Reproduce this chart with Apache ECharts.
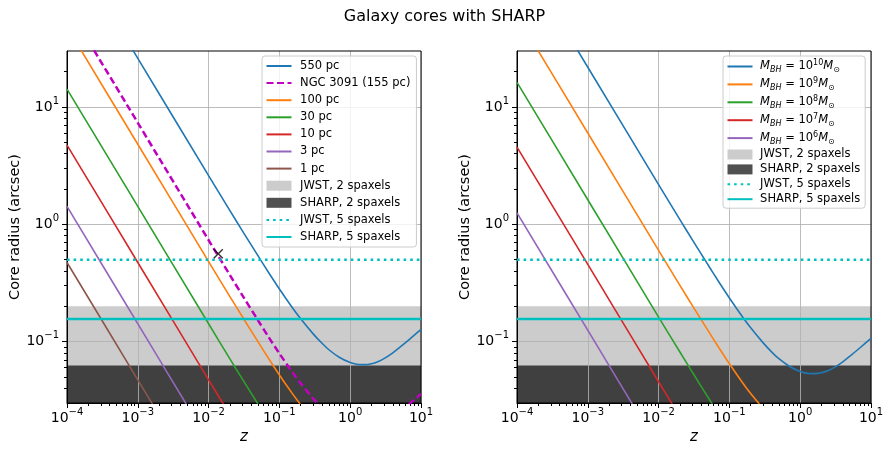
<!DOCTYPE html>
<html>
<head>
<meta charset="utf-8">
<title>Galaxy cores with SHARP</title>
<script src="https://cdn.jsdelivr.net/npm/echarts@6/dist/echarts.min.js"></script>
<style>
    html, body { margin: 0; padding: 0; background: #fff; }
    #chart { width: 889px; height: 465px; }
</style>
</head>
<body>
<div id="chart"></div>
<script>
// 红移采样点（两幅图共用）
var zGrid = [1e-4, 1e-3, 1e-2, 0.02, 0.03, 0.05, 0.07, 0.1, 0.15, 0.2, 0.3, 0.4, 0.5, 0.7, 1, 1.3, 1.6, 2, 2.5, 3, 4, 5, 7, 10];

// 左图：不同核心半径的角尺寸 (arcsec)
var leftNames = ['550 pc', 'NGC 3091 (155 pc)', '100 pc', '30 pc', '10 pc', '3 pc', '1 pc'];
var core550 = [260, 26, 2.6, 1.309, 0.880, 0.5376, 0.3905, 0.2812, 0.1976, 0.1566, 0.1165, 0.0968, 0.0853, 0.0736, 0.0663, 0.0639, 0.0637, 0.0648, 0.0678, 0.0716, 0.0803, 0.0894, 0.1058, 0.1273];
var core155 = [73.3, 7.33, 0.733, 0.3689, 0.248, 0.1515, 0.110, 0.0792, 0.0557, 0.0441, 0.0328, 0.0273, 0.0240, 0.0207, 0.0187, 0.0180, 0.0180, 0.0183, 0.0191, 0.0202, 0.0226, 0.0252, 0.0298, 0.0359];
var core100 = [48.1, 4.81, 0.481, 0.242, 0.163, 0.0995, 0.0722, 0.052, 0.0366, 0.029, 0.0216];
var core30 = [14.2, 1.42, 0.142, 0.0713, 0.048, 0.0293, 0.0213];
var core10 = [4.73, 0.473, 0.0473, 0.0238];
var core3 = [1.42, 0.142, 0.0142];
var core1 = [0.473, 0.0473, 0.00473];

// 右图：不同黑洞质量
var rightNames = ['M_BH = 10^10 M_sun', 'M_BH = 10^9 M_sun', 'M_BH = 10^8 M_sun', 'M_BH = 10^7 M_sun', 'M_BH = 10^6 M_sun'];
var massExp = ['10', '9', '8', '7', '6'];
var mbh10 = [218, 21.8, 2.18, 1.097, 0.737, 0.4505, 0.3272, 0.2356, 0.1656, 0.1312, 0.0976, 0.0811, 0.0715, 0.0617, 0.0556, 0.0535, 0.0534, 0.0543, 0.0568, 0.060, 0.0673, 0.0749, 0.0887, 0.1067];
var mbh9 = [60, 6.0, 0.6, 0.302, 0.203, 0.1241, 0.0901, 0.0649, 0.0456, 0.0361, 0.0269];
var mbh8 = [16.2, 1.62, 0.162, 0.0816, 0.0548, 0.0335, 0.0243];
var mbh7 = [4.55, 0.455, 0.0455, 0.0229];
var mbh6 = [1.25, 0.125, 0.0125];

// NGC 3091 实测点
var ngcPoint = [0.0137, 0.56];

// 参考线/带 (arcsec)
var refNames = ['JWST, 2 spaxels', 'SHARP, 2 spaxels', 'JWST, 5 spaxels', 'SHARP, 5 spaxels'];
var refLevels = [0.2, 0.0625, 0.5, 0.156];

// 坐标轴范围和刻度
var xRange = [1e-4, 10];
var yRange = [0.03, 30];
var xTicks = [1e-4, 1e-3, 1e-2, 1e-1, 1, 10];
var xTickExp = ['\u22124', '\u22123', '\u22122', '\u22121', '0', '1'];
var yTicks = [0.1, 1, 10];
var yTickExp = ['\u22121', '0', '1'];

// 次刻度
function minorTicks(lo, hi) {
    var out = [];
    for (var d = -5; d <= 2; d++) {
        for (var k = 2; k <= 9; k++) {
            var v = k * Math.pow(10, d);
            if (v > lo * 1.0001 && v < hi * 0.9999) out.push(v);
        }
    }
    return out;
}
var xMinor = minorTicks(xRange[0], xRange[1]);
var yMinor = minorTicks(yRange[0], yRange[1]);

var FONT = 'DejaVu Sans';
var tab = ['#1f77b4', '#ff7f0e', '#2ca02c', '#d62728', '#9467bd', '#8c564b'];
var leftColors = [tab[0], '#bf00bf', tab[1], tab[2], tab[3], tab[4], tab[5]];
var cyan = '#00bfbf';

function pairs(vals) {
    var out = [];
    for (var i = 0; i < vals.length; i++) out.push([zGrid[i], vals[i]]);
    return out;
}

function expLabel(ticks, exps) {
    return function (v) {
        for (var i = 0; i < ticks.length; i++) {
            if (Math.abs(Math.log10(v) - Math.log10(ticks[i])) < 1e-6) return '{b|10}{s|' + exps[i] + '}';
        }
        return '';
    };
}
var tickRich = {
    b: { fontSize: 14, lineHeight: 22, color: '#000', fontFamily: FONT },
    s: { fontSize: 10, verticalAlign: 'top', color: '#000', fontFamily: FONT }
};

var grids = [
    { left: 67, top: 51, width: 354, height: 352 },
    { left: 517, top: 51, width: 354, height: 352 }
];

var xAxes = [], yAxes = [];
grids.forEach(function (g, gi) {
    g.show = true;
    g.borderColor = '#000';
    g.borderWidth = 1;
    g.backgroundColor = 'transparent';
    g.z = 2;
    // 主轴
    xAxes.push({
        type: 'log', gridIndex: gi, min: xRange[0], max: xRange[1], position: 'bottom', z: 1,
        axisLine: { show: true, onZero: false, lineStyle: { color: '#000', width: 1 } },
        axisTick: { show: true, length: 5, customValues: xTicks, lineStyle: { color: '#000' } },
        axisLabel: { customValues: xTicks, margin: 4, formatter: expLabel(xTicks, xTickExp), rich: tickRich },
        splitLine: { show: true, lineStyle: { color: '#b0b0b0', width: 1, opacity: 0.85 } },
        name: 'z', nameLocation: 'middle', nameGap: 25,
        nameTextStyle: { fontStyle: 'italic', fontSize: 15, color: '#000', fontFamily: FONT }
    });
    // 次刻度
    xAxes.push({
        type: 'log', gridIndex: gi, min: xRange[0], max: xRange[1], position: 'top', offset: -352, z: 1,
        axisLine: { show: false },
        axisTick: { show: true, inside: true, length: 3, customValues: xMinor, lineStyle: { color: '#000' } },
        axisLabel: { show: false },
        splitLine: { show: false }
    });
    yAxes.push({
        type: 'log', gridIndex: gi, min: yRange[0], max: yRange[1], position: 'left', z: 1,
        axisLine: { show: true, onZero: false, lineStyle: { color: '#000', width: 1 } },
        axisTick: { show: true, length: 5, customValues: yTicks, lineStyle: { color: '#000' } },
        axisLabel: { customValues: yTicks, margin: 8, formatter: expLabel(yTicks, yTickExp), rich: tickRich },
        splitLine: { show: true, lineStyle: { color: '#b0b0b0', width: 1, opacity: 0.85 } },
        name: 'Core radius (arcsec)', nameLocation: 'middle', nameGap: 44, nameRotate: 90,
        nameTextStyle: { fontSize: 14.5, color: '#000', fontFamily: FONT }
    });
    yAxes.push({
        type: 'log', gridIndex: gi, min: yRange[0], max: yRange[1], position: 'right', offset: -354, z: 1,
        axisLine: { show: false },
        axisTick: { show: true, inside: true, length: 3, customValues: yMinor, lineStyle: { color: '#000' } },
        axisLabel: { show: false },
        splitLine: { show: false }
    });
});

var series = [];

function addRefs(gi) {
    var ax = gi * 2;
    // 灰色带
    [0, 1].forEach(function (k) {
        var c = k === 0 ? '#cccccc' : '#404040';
        series.push({
            name: refNames[k], type: 'line', xAxisIndex: ax, yAxisIndex: ax, z: 0,
            symbol: 'none', color: c, silent: true,
            lineStyle: { width: 0, opacity: 0 },
            areaStyle: { color: c, opacity: 1, origin: 'start' },
            data: [[xRange[0], refLevels[k]], [xRange[1], refLevels[k]]]
        });
    });
    series.push({
        name: refNames[2], type: 'line', xAxisIndex: ax, yAxisIndex: ax, z: 3,
        symbol: 'none', color: cyan, silent: true,
        lineStyle: { width: 2.5, type: [2.6, 4], color: cyan },
        data: [[xRange[0], refLevels[2]], [xRange[1], refLevels[2]]]
    });
    series.push({
        name: refNames[3], type: 'line', xAxisIndex: ax, yAxisIndex: ax, z: 3,
        symbol: 'none', color: cyan, silent: true,
        lineStyle: { width: 2.5, color: cyan },
        data: [[xRange[0], refLevels[3]], [xRange[1], refLevels[3]]]
    });
}

// 左图曲线
[core550, core155, core100, core30, core10, core3, core1].forEach(function (vals, i) {
    var ls = { width: 1.6, color: leftColors[i] };
    if (i === 1) { ls.width = 2.5; ls.type = [7, 3.5]; }
    series.push({
        name: leftNames[i], type: 'line', xAxisIndex: 0, yAxisIndex: 0, z: 3,
        symbol: 'none', smooth: 0.3, color: leftColors[i], silent: true,
        lineStyle: ls, data: pairs(vals)
    });
});
addRefs(0);
series.push({
    type: 'scatter', xAxisIndex: 0, yAxisIndex: 0, z: 4, silent: true,
    symbol: 'path://M1,0 L5,4 L9,0 L10,1 L6,5 L10,9 L9,10 L5,6 L1,10 L0,9 L4,5 L0,1 Z',
    symbolSize: 10, itemStyle: { color: '#000' },
    data: [ngcPoint]
});

// 右图曲线
[mbh10, mbh9, mbh8, mbh7, mbh6].forEach(function (vals, i) {
    series.push({
        name: rightNames[i], type: 'line', xAxisIndex: 2, yAxisIndex: 2, z: 3,
        symbol: 'none', smooth: 0.3, color: tab[i], silent: true,
        lineStyle: { width: 1.6, color: tab[i] }, data: pairs(vals)
    });
});
addRefs(1);

// 图例：线条项隐藏圆点，灰带项用矩形
function legendData(names) {
    var d = names.map(function (n) { return { name: n }; });
    d.push({ name: refNames[0], icon: 'rect', itemStyle: { opacity: 1, color: '#cccccc' } });
    d.push({ name: refNames[1], icon: 'rect', itemStyle: { opacity: 1, color: '#505050' } });
    d.push({ name: refNames[2] });
    d.push({ name: refNames[3] });
    return d;
}

var legendBox = {
    orient: 'vertical', itemWidth: 25, itemHeight: 10, selectedMode: false,
    itemStyle: { opacity: 0 },
    backgroundColor: 'rgba(255,255,255,0.8)', borderColor: '#cccccc', borderWidth: 1, borderRadius: 3, z: 5
};

var myChart = echarts.init(document.getElementById('chart'));
var option = {
    animation: false,
    backgroundColor: '#fff',
    title: {
        text: 'Galaxy cores with SHARP', left: 'center', top: 4,
        textStyle: { fontSize: 16, fontWeight: 'normal', color: '#000', fontFamily: FONT }
    },
    grid: grids,
    xAxis: xAxes,
    yAxis: yAxes,
    legend: [
        Object.assign({}, legendBox, {
            left: 262, top: 56, itemGap: 3.1, padding: [3, 6, 3, 3.5],
            textStyle: { fontSize: 11.5, lineHeight: 14, color: '#000', fontFamily: FONT, padding: [0, 0, 0, 3.6] },
            data: legendData(leftNames)
        }),
        Object.assign({}, legendBox, {
            left: 723, top: 56, itemGap: 2.9, padding: [3, 5, 3, 3.5],
            formatter: function (name) {
                var i = rightNames.indexOf(name);
                if (i >= 0) return '{i|M}{sub|BH}{n| = 10}{sup|' + massExp[i] + '}{i|M}{sun|\u2299}';
                return '{n|' + name + '}';
            },
            textStyle: {
                color: '#000', fontFamily: FONT, padding: [0, 0, 0, 2.6],
                rich: {
                    n: { fontSize: 11.5, lineHeight: 15, color: '#000', fontFamily: FONT },
                    i: { fontSize: 11.5, lineHeight: 15, fontStyle: 'italic', color: '#000', fontFamily: FONT },
                    sub: { fontSize: 8, fontStyle: 'italic', verticalAlign: 'bottom', color: '#000', fontFamily: FONT },
                    sun: { fontSize: 8, verticalAlign: 'bottom', color: '#000', fontFamily: FONT },
                    sup: { fontSize: 8, verticalAlign: 'top', color: '#000', fontFamily: FONT }
                }
            },
            data: legendData(rightNames)
        })
    ],
    series: series
};
myChart.setOption(option);
window.onresize = myChart.resize;
</script>
</body>
</html>
